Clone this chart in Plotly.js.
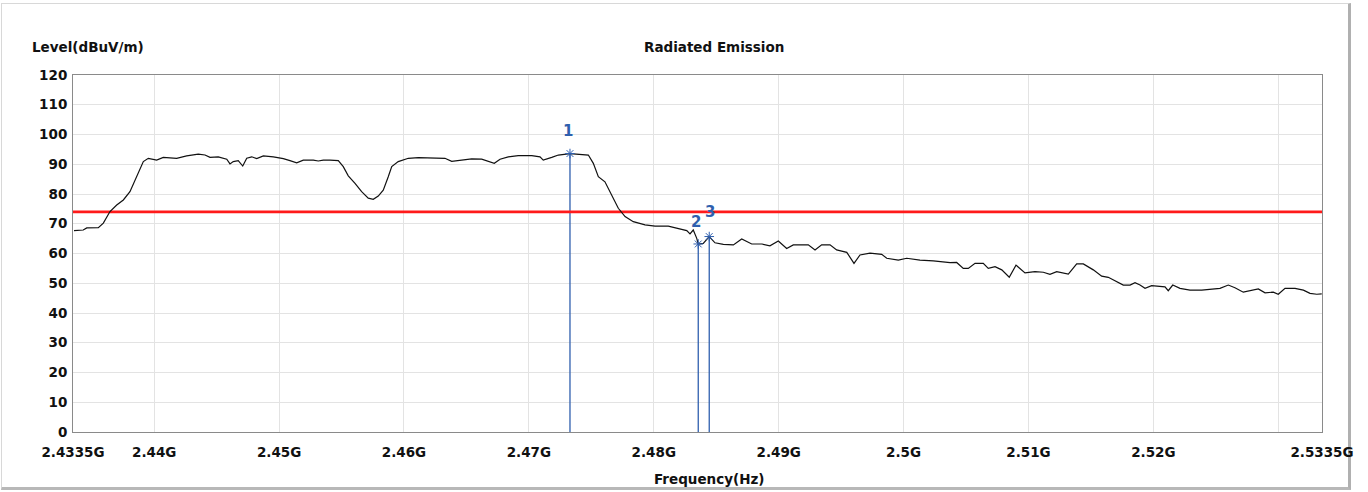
<!DOCTYPE html>
<html>
<head>
<meta charset="utf-8">
<script src="https://cdn.plot.ly/plotly-3.0.1.min.js"></script>
<style>
html,body{margin:0;padding:0;background:#fff;}
#frame{position:absolute;left:1px;top:3px;width:1346px;height:483px;border:1px solid #d8d8d8;border-right:3px solid #b0b0b0;border-bottom:3px solid #b8b8b8;background:#fff;}
#chart{position:absolute;left:0;top:0;width:1368px;height:492px;}
</style>
</head>
<body>
<div id="frame"></div>
<div id="chart"></div>
<script>
// Trace frequencies (GHz) and levels (dBuV/m)
const freqGHz = [
2.43358,2.43432,2.43460,2.43553,2.43593,2.43646,2.43700,2.43753,2.43806,2.43846,2.43886,2.43913,2.43953,2.44020,2.44073,2.44180,2.44260,2.44353,2.44407,2.44447,2.44513,2.44581,2.44607,2.44633,2.44673,2.44709,2.44741,2.44781,2.44821,2.44874,2.44954,2.45034,2.45087,2.45141,2.45194,2.45274,2.45314,2.45354,2.45408,2.45474,2.45514,2.45554,2.45608,2.45661,2.45714,2.45754,2.45794,2.45834,2.45874,
2.45902,2.45954,2.46035,2.46115,2.46222,2.46328,2.46382,2.46462,2.46542,2.46622,2.46675,2.46723,2.46769,2.46835,2.46915,2.47023,2.47089,2.47115,2.47183,2.47236,2.47329,2.47423,2.47476,2.47516,2.47556,2.47609,2.47663,2.47716,2.47770,2.47836,2.47930,2.48010,2.48116,2.48196,2.48264,2.48290,2.48316,2.48344,2.48356,
2.48396,2.48444,2.48490,2.48557,2.48637,2.48704,2.48784,2.48864,2.48930,2.48997,2.49064,2.49117,2.49237,2.49291,2.49344,2.49411,2.49464,2.49545,2.49603,2.49651,2.49731,2.49825,2.49865,2.49958,2.50025,2.50131,2.50238,2.50372,2.50425,2.50478,2.50518,2.50572,2.50638,2.50678,2.50732,2.50786,2.50846,2.50900,
2.50972,2.51052,2.51119,2.51172,2.51226,2.51319,2.51386,2.51439,2.51519,2.51586,2.51639,2.51693,2.51759,2.51813,2.51853,2.51893,2.51933,2.51986,2.52039,2.52093,2.52119,2.52155,2.52213,2.52293,2.52387,2.52480,2.52533,2.52600,2.52653,2.52720,2.52787,2.52840,2.52894,2.52960,2.53000,2.53054,2.53134,2.53201,2.53254,2.53308,2.53348];

const levelDb = [
67.7,67.9,68.6,68.7,70.2,74.1,76.3,78.0,80.8,84.7,88.1,90.9,92.0,91.4,92.3,92.0,92.8,93.4,93.1,92.3,92.5,91.7,90.1,90.9,91.2,89.4,92.0,92.5,91.9,92.8,92.5,91.9,91.2,90.5,91.4,91.4,91.1,91.4,91.4,91.2,89.2,86.1,83.6,80.8,78.6,78.2,79.3,81.3,85.8,
89.2,90.9,92.0,92.2,92.1,92.0,91.0,91.4,91.8,91.7,90.9,90.3,91.7,92.5,92.9,92.9,92.5,91.4,92.3,93.1,93.6,93.4,93.1,90.3,85.8,84.1,79.7,75.2,72.4,70.7,69.6,69.2,69.2,68.5,67.7,66.6,67.9,65.1,63.2,
63.4,65.7,63.6,63.1,62.9,64.9,63.2,63.2,62.6,64.2,61.7,62.9,62.9,61.2,62.9,62.9,61.2,60.4,56.7,59.5,60.1,59.7,58.4,57.8,58.4,57.8,57.5,56.9,57.0,55.0,55.0,56.7,56.7,55.0,55.6,54.5,52.0,56.1,
53.5,53.9,53.7,53.0,53.9,53.1,56.5,56.5,54.5,52.4,52.0,50.9,49.4,49.4,50.2,49.4,48.3,49.2,49.1,48.8,47.5,49.4,48.3,47.7,47.7,48.1,48.3,49.4,48.5,47.0,47.7,48.1,46.8,47.0,46.3,48.3,48.3,47.7,46.6,46.3,46.4];

const limitDb = 74;
const markerFreq = [2.47329, 2.48356, 2.48444];
const markerLevel = [93.6, 63.2, 65.7];
const markerLabels = ['1', '2', '3'];

const xRange = [2.4335, 2.5335];
const xTickVals = [2.4335, 2.44, 2.45, 2.46, 2.47, 2.48, 2.49, 2.50, 2.51, 2.52, 2.53, 2.5335];
const xTickText = ['2.4335G', '2.44G', '2.45G', '2.46G', '2.47G', '2.48G', '2.49G', '2.5G', '2.51G', '2.52G', '', '2.5335G'];
const yTickVals = [0,10,20,30,40,50,60,70,80,90,100,110,120];

const FONT = 'DejaVu Sans, Liberation Sans, Arial, sans-serif';
const MCOLOR = '#2f5fae';

const traces = [];
// marker vertical lines
markerFreq.forEach((f, i) => {
  traces.push({x: [f, f], y: [0, markerLevel[i]], mode: 'lines', type: 'scatter',
    line: {color: MCOLOR, width: 1.3}, hoverinfo: 'skip', showlegend: false});
});
// limit line
traces.push({x: xRange, y: [limitDb, limitDb], mode: 'lines', type: 'scatter',
  line: {color: '#ff1a1a', width: 2.6}, showlegend: false});
// spectrum trace
traces.push({x: freqGHz, y: levelDb, mode: 'lines', type: 'scatter',
  line: {color: '#111111', width: 1.2}, showlegend: false});
// marker symbols
traces.push({x: markerFreq, y: markerLevel, mode: 'markers', type: 'scatter',
  marker: {symbol: 'asterisk-open', size: 8, color: MCOLOR, line: {color: MCOLOR, width: 1}}, showlegend: false});

const annotations = [
  {text: '<b>Radiated Emission</b>', xref: 'paper', yref: 'paper', x: 0.513, y: 1, yshift: 28, showarrow: false,
   xanchor: 'center', yanchor: 'middle', font: {family: FONT, size: 13.5, color: '#111'}},
  {text: '<b>Level(dBuV/m)</b>', xref: 'paper', yref: 'paper', x: 0, xshift: -43, y: 1, yshift: 28, showarrow: false,
   xanchor: 'left', yanchor: 'middle', font: {family: FONT, size: 13.5, color: '#111'}},
  {text: '<b>Frequency(Hz)</b>', xref: 'paper', yref: 'paper', x: 0.51, y: 0, yshift: -47, showarrow: false,
   xanchor: 'center', yanchor: 'middle', font: {family: FONT, size: 13.5, color: '#111'}}
];
const labelShiftY = [23, 22, 25];
const labelShiftX = [-2, -2, 1];
markerLabels.forEach((t, i) => {
  annotations.push({text: '<b>' + t + '</b>', x: markerFreq[i], y: markerLevel[i], xref: 'x', yref: 'y',
    showarrow: false, yshift: labelShiftY[i], xshift: labelShiftX[i], font: {family: FONT, size: 15, color: MCOLOR}});
});

const layout = {
  width: 1368, height: 492,
  margin: {l: 73, r: 46, t: 75, b: 60},
  paper_bgcolor: 'rgba(0,0,0,0)',
  plot_bgcolor: '#ffffff',
  showlegend: false,
  xaxis: {range: xRange, tickvals: xTickVals, ticktext: xTickText, showgrid: true, gridcolor: '#e3e3e3', gridwidth: 1,
    zeroline: false, showline: true, mirror: true, linecolor: '#8a8a8a', linewidth: 1, ticks: '', ticklabelstandoff: 8,
    tickfont: {family: FONT, size: 13.5, color: '#111', weight: 'bold'}},
  yaxis: {range: [0, 120], tickvals: yTickVals, showgrid: true, gridcolor: '#e3e3e3', gridwidth: 1,
    zeroline: false, showline: true, mirror: true, linecolor: '#8a8a8a', linewidth: 1, ticks: '', ticklabelstandoff: 2,
    tickfont: {family: FONT, size: 13.5, color: '#111', weight: 'bold'}},
  annotations: annotations
};

Plotly.newPlot('chart', traces, layout, {displayModeBar: false, staticPlot: true});
</script>
</body>
</html>
